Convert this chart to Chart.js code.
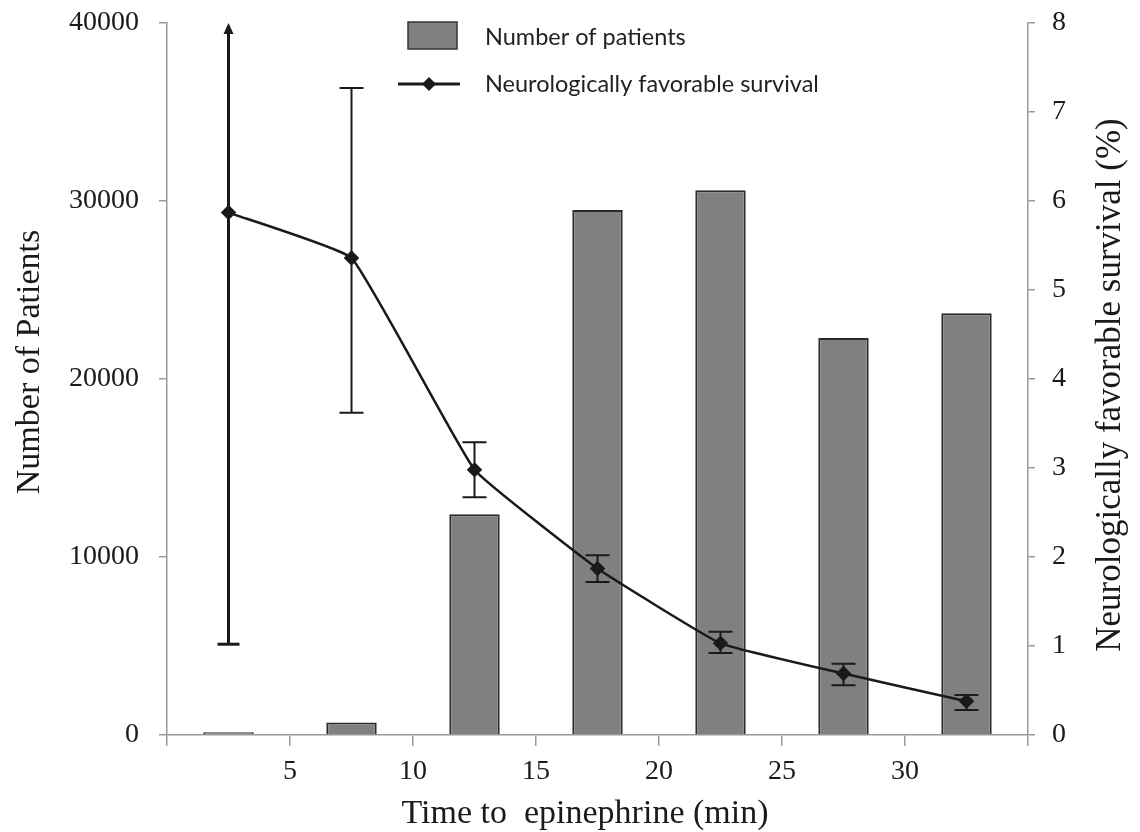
<!DOCTYPE html>
<html>
<head>
<meta charset="utf-8">
<script src="https://cdn.jsdelivr.net/npm/chart.js@4/dist/chart.umd.min.js"></script>
<style>
  body { margin: 0; background: #fff; }
  canvas { display: block; }
</style>
</head>
<body>
<canvas id="chart" width="1140" height="832"></canvas>
<script>
// bin midpoints (min) and values
const midpoints = [2.5, 7.5, 12.5, 17.5, 22.5, 27.5, 32.5];
const patients = [150, 700, 12400, 29500, 30600, 22300, 23700];
const survival = [5.87, 5.36, 2.98, 1.87, 1.03, 0.69, 0.38];
const ciUpper = [8.0, 7.27, 3.29, 2.02, 1.16, 0.80, 0.45]; // first one runs off the top (arrow)
const ciLower = [1.02, 3.62, 2.67, 1.72, 0.92, 0.56, 0.28];
const xTicks = [5, 10, 15, 20, 25, 30];
const leftTicks = [0, 10000, 20000, 30000, 40000];
const rightTicks = [0, 1, 2, 3, 4, 5, 6, 7, 8];

const serif = '"Liberation Serif", "Times New Roman", serif';
const sans = 'Lato, "Open Sans", sans-serif';
const ink = '#1a1a1a';
const axisGray = '#9a9a9a';

// error bars, using the right-hand scale
const errorBars = {
  id: 'errorBars',
  afterDatasetsDraw(chart) {
    const ctx = chart.ctx;
    const xs = chart.scales.x, ys = chart.scales.yR;
    ctx.save();
    ctx.strokeStyle = ink;
    ctx.fillStyle = ink;
    for (let i = 0; i < midpoints.length; i++) {
      const px = xs.getPixelForValue(midpoints[i]);
      const clipped = ciUpper[i] >= ys.max;
      const top = ys.getPixelForValue(Math.min(ciUpper[i], ys.max));
      const bot = ys.getPixelForValue(ciLower[i]);
      ctx.lineWidth = clipped ? 3 : 2;
      ctx.beginPath();
      ctx.moveTo(px, clipped ? top + 8 : top);
      ctx.lineTo(px, bot);
      ctx.stroke();
      const cap = clipped ? 11 : 12;
      ctx.beginPath();
      ctx.moveTo(px - cap, bot); ctx.lineTo(px + cap, bot);
      if (!clipped) { ctx.moveTo(px - cap, top); ctx.lineTo(px + cap, top); }
      ctx.stroke();
      if (clipped) {
        ctx.beginPath();
        ctx.moveTo(px, top);
        ctx.lineTo(px - 5, top + 11);
        ctx.lineTo(px + 5, top + 11);
        ctx.closePath();
        ctx.fill();
      }
    }
    ctx.restore();
  }
};

// axis titles and the legend box
const decorations = {
  id: 'decorations',
  afterDraw(chart) {
    const ctx = chart.ctx;
    ctx.save();
    ctx.fillStyle = ink;
    ctx.font = '34px ' + serif;
    ctx.textAlign = 'center';
    ctx.textBaseline = 'middle';
    ctx.fillText('Time to  epinephrine (min)', 585, 814);

    ctx.save();
    ctx.translate(30, 362);
    ctx.rotate(-Math.PI / 2);
    ctx.fillText('Number of Patients', 0, 0);
    ctx.restore();

    ctx.font = '35px ' + serif;
    ctx.save();
    ctx.translate(1111, 385);
    ctx.rotate(-Math.PI / 2);
    ctx.fillText('Neurologically favorable survival (%)', 0, 0);
    ctx.restore();

    // legend
    const ds = chart.data.datasets;
    ctx.fillStyle = '#808080';
    ctx.fillRect(408, 22, 49, 27);
    ctx.strokeStyle = '#333';
    ctx.lineWidth = 1.5;
    ctx.strokeRect(408, 22, 49, 27);

    ctx.strokeStyle = ink;
    ctx.lineWidth = 3;
    ctx.beginPath();
    ctx.moveTo(398, 84); ctx.lineTo(460, 84);
    ctx.stroke();
    ctx.fillStyle = ink;
    ctx.beginPath();
    ctx.moveTo(429, 77); ctx.lineTo(436, 84); ctx.lineTo(429, 91); ctx.lineTo(422, 84);
    ctx.closePath();
    ctx.fill();

    ctx.font = '23.5px ' + sans;
    ctx.textAlign = 'left';
    ctx.fillStyle = '#222';
    ctx.fillText(ds[1].label, 485, 37);
    ctx.fillText(ds[0].label, 485, 84);
    ctx.restore();
  }
};

// fixed axis sizes so the plot box lands where it is in the figure
function pinWidth(w) {
  return s => { s.width = w; s.paddingTop = 0; s.paddingBottom = 0; };
}

const ctx = document.getElementById('chart').getContext('2d');
new Chart(ctx, {
  type: 'bar',
  data: {
    datasets: [
      {
        type: 'line',
        label: 'Neurologically favorable survival',
        data: midpoints.map((m, i) => ({ x: m, y: survival[i] })),
        yAxisID: 'yR',
        borderColor: ink,
        borderWidth: 2.5,
        backgroundColor: ink,
        pointStyle: 'rectRot',
        pointRadius: 6,
        tension: 0.1,
        order: 0
      },
      {
        type: 'bar',
        label: 'Number of patients',
        data: midpoints.map((m, i) => ({ x: m, y: patients[i] })),
        yAxisID: 'yL',
        backgroundColor: '#808080',
        borderColor: '#2b2b2b',
        borderWidth: 2,
        borderSkipped: 'bottom',
        barPercentage: 0.41,
        categoryPercentage: 1,
        order: 1
      }
    ]
  },
  options: {
    responsive: false,
    animation: false,
    layout: { autoPadding: false, padding: { top: 23, left: 0, right: 0, bottom: 0 } },
    plugins: { legend: { display: false }, tooltip: { enabled: false } },
    scales: {
      x: {
        type: 'linear',
        position: 'bottom',
        min: 0,
        max: 35,
        offset: false,
        afterBuildTicks: s => { s.ticks = [0].concat(xTicks, [35]).map(v => ({ value: v })); },
        ticks: {
          callback: v => xTicks.includes(v) ? String(v) : '',
          font: { family: serif, size: 28 },
          color: ink,
          padding: 9,
          maxRotation: 0
        },
        grid: { offset: false, drawOnChartArea: false, tickLength: 11, color: axisGray, lineWidth: 1.5 },
        border: { color: axisGray, width: 1.5 },
        afterFit: s => { s.height = 97; s.paddingLeft = 0; s.paddingRight = 0; }
      },
      yL: {
        type: 'linear',
        position: 'left',
        min: 0,
        max: 40000,
        afterBuildTicks: s => { s.ticks = leftTicks.map(v => ({ value: v })); },
        ticks: { callback: v => String(v), font: { family: serif, size: 28 }, color: ink, padding: 20 },
        grid: { drawOnChartArea: false, tickLength: 8, color: axisGray, lineWidth: 1.5 },
        border: { color: axisGray, width: 1.5 },
        afterFit: pinWidth(167)
      },
      yR: {
        type: 'linear',
        position: 'right',
        min: 0,
        max: 8,
        afterBuildTicks: s => { s.ticks = rightTicks.map(v => ({ value: v })); },
        ticks: { callback: v => String(v), font: { family: serif, size: 28 }, color: ink, padding: 17 },
        grid: { drawOnChartArea: false, tickLength: 7, color: axisGray, lineWidth: 1.5 },
        border: { color: axisGray, width: 1.5 },
        afterFit: pinWidth(112)
      }
    }
  },
  plugins: [errorBars, decorations]
});
</script>
</body>
</html>
